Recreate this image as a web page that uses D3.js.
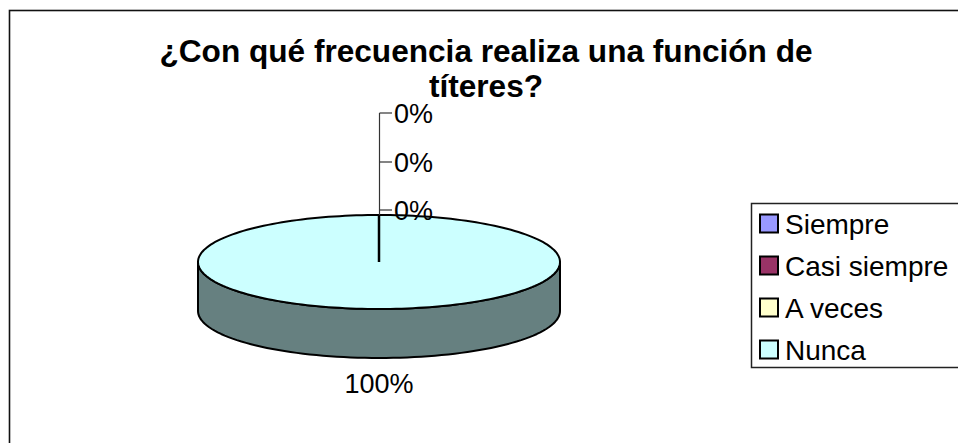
<!DOCTYPE html>
<html>
<head>
<meta charset="utf-8">
<script src="https://cdn.jsdelivr.net/npm/d3@7"></script>
<style>
  html, body { margin: 0; padding: 0; background: #fff; }
  svg { display: block; font-family: "Liberation Sans", Arial, sans-serif; }
</style>
</head>
<body>
<svg id="chart" width="958" height="443"></svg>
<script>
const titleLines = ["¿Con qué frecuencia realiza una función de", "títeres?"];
const categories = ["Siempre", "Casi siempre", "A veces", "Nunca"];
const values = [0, 0, 0, 100];
const topColors = ["#9999FF", "#993366", "#FFFFCC", "#CCFFFF"];
const sideColors = ["#666699", "#662244", "#999980", "#668080"];

const svg = d3.select("#chart");

// chart border
svg.append("rect").attr("x", 9.5).attr("y", 10.5).attr("width", 960).attr("height", 440)
  .attr("fill", "#fff").attr("stroke", "#111").attr("stroke-width", 1.6);

// title
const title = svg.append("text").attr("text-anchor", "middle")
  .attr("font-weight", "bold").attr("font-size", 31.6).attr("fill", "#000");
titleLines.forEach((t, i) => {
  title.append("tspan").attr("x", 486).attr("y", 62 + i * 35).text(t);
});

// 3D pie
const cx = 379, cy = 262, rx = 181, ry = 47, depth = 49;
const total = d3.sum(values);
const pie = d3.pie().sort(null).value(d => d)(values);
const pt = (a) => [cx + rx * Math.sin(a), cy - ry * Math.cos(a)];

const g = svg.append("g");

// sides (front half: angles between PI/2 and 3PI/2)
pie.forEach((s, i) => {
  const a0 = Math.max(s.startAngle, Math.PI / 2);
  const a1 = Math.min(s.endAngle, 3 * Math.PI / 2);
  if (a1 <= a0) return;
  const n = 80;
  const pts = d3.range(n + 1).map(k => pt(a0 + (a1 - a0) * k / n));
  const bottom = pts.slice().reverse().map(p => [p[0], p[1] + depth]);
  g.append("path")
    .attr("d", d3.line()(pts.concat(bottom)) + "Z")
    .attr("fill", sideColors[i]).attr("stroke", "#000").attr("stroke-width", 2)
    .attr("stroke-linejoin", "round");
});

// tops
pie.forEach((s, i) => {
  if (s.endAngle - s.startAngle <= 0) return;
  const n = 200;
  const pts = d3.range(n + 1).map(k => pt(s.startAngle + (s.endAngle - s.startAngle) * k / n));
  const full = (s.endAngle - s.startAngle) >= 2 * Math.PI - 1e-6;
  const d = full ? d3.line()(pts) + "Z" : d3.line()([[cx, cy]].concat(pts)) + "Z";
  g.append("path").attr("d", d)
    .attr("fill", topColors[i]).attr("stroke", "#000").attr("stroke-width", 2);
});

// radial boundary line of the zero slices
const zeroSlices = pie.filter(s => s.value === 0);
if (zeroSlices.length) {
  const [x1, y1] = pt(zeroSlices[0].startAngle);
  g.append("line").attr("x1", cx).attr("y1", cy).attr("x2", x1).attr("y2", y1)
    .attr("stroke", "#000").attr("stroke-width", 2.5);
}

// labels
const fmt = v => Math.round(v / total * 100) + "%";
const zeroLabelY = [113, 162, 210];
const leaderX = 379.5;
const topY = cy - ry;
svg.append("line").attr("x1", leaderX).attr("x2", leaderX)
  .attr("y1", zeroLabelY[0]).attr("y2", topY)
  .attr("stroke", "#333").attr("stroke-width", 1.2);
let zi = 0;
pie.forEach((s, i) => {
  if (s.value === 0) {
    const y = zeroLabelY[zi++];
    svg.append("line").attr("x1", leaderX).attr("x2", 392).attr("y1", y).attr("y2", y)
      .attr("stroke", "#333").attr("stroke-width", 1.2);
    svg.append("text").attr("x", 394).attr("y", y + 10).attr("font-size", 27)
      .attr("fill", "#000").text(fmt(s.value));
  } else {
    svg.append("text").attr("x", cx).attr("y", 393).attr("text-anchor", "middle")
      .attr("font-size", 27).attr("fill", "#000").text(fmt(s.value));
  }
});

// legend
const lg = svg.append("g");
lg.append("rect").attr("x", 751.5).attr("y", 203.5).attr("width", 220).attr("height", 164)
  .attr("fill", "#fff").attr("stroke", "#222").attr("stroke-width", 1.5);
const rowY = d3.scalePoint().domain(categories).range([223.5, 349.5]);
categories.forEach((c, i) => {
  const y = rowY(c);
  lg.append("rect").attr("x", 760).attr("y", y - 9).attr("width", 18).attr("height", 18)
    .attr("fill", topColors[i]).attr("stroke", "#000").attr("stroke-width", 2);
  lg.append("text").attr("x", 785).attr("y", y + 10).attr("font-size", 28)
    .attr("fill", "#000").text(c);
});
</script>
</body>
</html>
